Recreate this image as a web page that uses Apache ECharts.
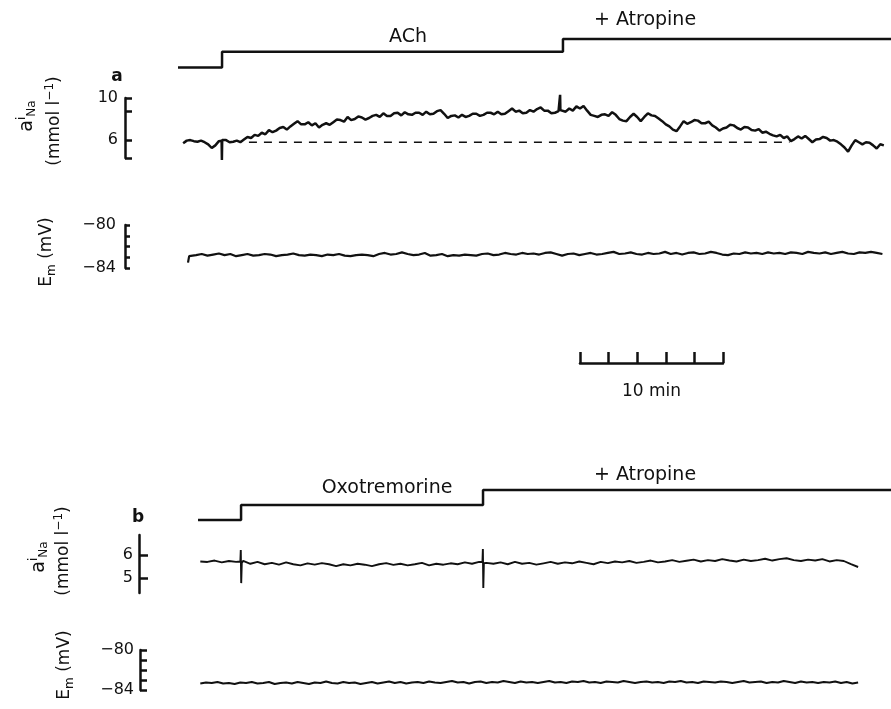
<!DOCTYPE html>
<html>
<head>
<meta charset="UTF-8">
<title>aiNa and Em traces</title>
<style>
  html, body { margin: 0; padding: 0; background: #fff; }
  #chart { width: 891px; height: 709px; }
</style>
<script src="https://cdn.jsdelivr.net/npm/echarts@6.0.0/dist/echarts.min.js"></script>
</head>
<body>
<div id="chart"></div>
<script>
// all times in minutes, from the left edge of the trace area

// drug protocol lines (step: time of change, level after it)
const protoATimes = [0.14, 3.22, 27.06, 50]
const protoALevels = [0, 1.1, 2, 2]
const protoBTimes = [1.54, 4.55, 21.47, 50]
const protoBLevels = [0, 1, 2, 2]

// panel a, aiNa (mmol/l), every 0.25 min from 0.5 min
const naAStart = 0.5
const naAStep = 0.25
const naAValues = [
  5.7, 5.95, 6.0, 5.9, 5.85, 5.95, 5.8, 5.6,
  5.25, 5.5, 5.9, 6.05, 6.0, 5.8, 5.85, 5.95,
  5.8, 6.05, 6.3, 6.2, 6.5, 6.4, 6.7, 6.55,
  6.95, 6.75, 6.9, 7.15, 7.25, 7.0, 7.3, 7.55,
  7.8, 7.5, 7.5, 7.7, 7.4, 7.6, 7.2, 7.45,
  7.6, 7.45, 7.7, 7.95, 7.9, 7.75, 8.2, 7.9,
  8.0, 8.25, 8.15, 7.95, 8.1, 8.3, 8.4, 8.2,
  8.55, 8.3, 8.3, 8.55, 8.6, 8.35, 8.65, 8.45,
  8.4, 8.6, 8.6, 8.4, 8.7, 8.45, 8.5, 8.75,
  8.85, 8.5, 8.1, 8.3, 8.35, 8.15, 8.4, 8.2,
  8.3, 8.5, 8.5, 8.3, 8.4, 8.6, 8.6, 8.45,
  8.7, 8.45, 8.5, 8.75, 9.0, 8.7, 8.8, 8.55,
  8.6, 8.85, 8.7, 8.95, 9.1, 8.8, 8.8, 8.55,
  8.6, 8.75, 8.9, 8.7, 9.0, 8.8, 9.2, 9.0,
  9.25, 8.8, 8.4, 8.3, 8.2, 8.4, 8.45, 8.3,
  8.65, 8.4, 8.0, 7.85, 7.8, 8.2, 8.5, 8.2,
  7.8, 8.2, 8.55, 8.35, 8.3, 8.05, 7.8, 7.5,
  7.3, 7.0, 6.85, 7.3, 7.8, 7.55, 7.7, 7.9,
  7.85, 7.6, 7.6, 7.75, 7.4, 7.2, 6.9, 7.1,
  7.2, 7.45, 7.4, 7.15, 7.0, 7.25, 7.2, 6.95,
  6.9, 7.05, 6.7, 6.8, 6.6, 6.45, 6.35, 6.5,
  6.2, 6.35, 5.9, 6.1, 6.35, 6.15, 6.4, 6.1,
  5.8, 6.05, 6.1, 6.3, 6.2, 5.95, 6.0, 5.85,
  5.6, 5.3, 4.9, 5.5, 6.0, 5.8, 5.6, 5.8,
  5.75, 5.5, 5.2, 5.6, 5.5
]
// switching artefacts [time, value]
const naASpikes = [
  [3.19, 5.95], [3.21, 4.1], [3.23, 6.0],
  [26.84, 8.8], [26.86, 10.3], [26.88, 8.85]
]
const naABaseline = 5.8
const naABaselineFrom = 5.1
const naABaselineTo = 42.9

// panel a, Em (mV), every 0.4 min from 1.0 min
const emAHook = [[0.84, -83.5], [0.92, -82.9]]
const emAStart = 1.0
const emAStep = 0.4
const emAValues = [
  -82.75, -82.8, -82.7, -82.85, -82.75, -82.65, -82.8, -82.7, -82.9, -82.8,
  -82.7, -82.85, -82.8, -82.7, -82.75, -82.9, -82.8, -82.75, -82.65, -82.8,
  -82.85, -82.75, -82.8, -82.9, -82.75, -82.8, -82.7, -82.85, -82.9, -82.8,
  -82.75, -82.8, -82.9, -82.7, -82.6, -82.75, -82.7, -82.55, -82.7, -82.8,
  -82.75, -82.6, -82.85, -82.8, -82.7, -82.9, -82.8, -82.85, -82.75, -82.8,
  -82.85, -82.7, -82.65, -82.8, -82.75, -82.6, -82.7, -82.75, -82.6, -82.7,
  -82.65, -82.75, -82.6, -82.55, -82.7, -82.85, -82.7, -82.65, -82.8, -82.7,
  -82.6, -82.75, -82.7, -82.6, -82.5, -82.7, -82.65, -82.55, -82.7, -82.75,
  -82.6, -82.7, -82.65, -82.5, -82.7, -82.6, -82.75, -82.6, -82.55, -82.7,
  -82.65, -82.5, -82.6, -82.75, -82.8, -82.65, -82.7, -82.55, -82.65, -82.6,
  -82.7, -82.55, -82.65, -82.6, -82.7, -82.55, -82.6, -82.7, -82.5, -82.6,
  -82.65, -82.55, -82.7, -82.6, -82.5, -82.65, -82.7, -82.55, -82.6, -82.5,
  -82.6, -82.7
]

// panel b, aiNa (mmol/l), every 0.5 min from 1.7 min
const naBStart = 1.7
const naBStep = 0.5
const naBValues = [
  5.72, 5.7, 5.76, 5.68, 5.74, 5.7, 5.75, 5.62, 5.7, 5.6,
  5.66, 5.58, 5.68, 5.6, 5.55, 5.64, 5.58, 5.65, 5.6, 5.52,
  5.6, 5.55, 5.62, 5.58, 5.52, 5.6, 5.65, 5.57, 5.62, 5.55,
  5.6, 5.66, 5.55, 5.62, 5.58, 5.64, 5.6, 5.68, 5.62, 5.7,
  5.66, 5.62, 5.68, 5.6, 5.7, 5.62, 5.66, 5.58, 5.64, 5.7,
  5.62, 5.68, 5.64, 5.72, 5.66, 5.6, 5.7, 5.65, 5.72, 5.68,
  5.74, 5.66, 5.7, 5.76, 5.68, 5.72, 5.78, 5.7, 5.75, 5.8,
  5.72, 5.78, 5.74, 5.82, 5.76, 5.72, 5.8, 5.74, 5.78, 5.84,
  5.76, 5.82, 5.86, 5.78, 5.74, 5.8, 5.76, 5.82, 5.72, 5.78,
  5.74, 5.6, 5.48
]
const naBSpikes = [
  [4.5, 5.72], [4.53, 6.22], [4.56, 4.78], [4.6, 5.65],
  [21.43, 5.7], [21.46, 6.26], [21.49, 4.57], [21.53, 5.65]
]

// panel b, Em (mV), every 0.4 min from 1.7 min
const emBStart = 1.7
const emBStep = 0.4
const emBValues = [
  -83.35, -83.25, -83.3, -83.2, -83.35, -83.3, -83.4, -83.25, -83.3, -83.2,
  -83.35, -83.3, -83.2, -83.4, -83.3, -83.25, -83.35, -83.2, -83.3, -83.4,
  -83.25, -83.3, -83.15, -83.3, -83.35, -83.2, -83.3, -83.25, -83.4, -83.3,
  -83.2, -83.35, -83.25, -83.15, -83.3, -83.2, -83.35, -83.25, -83.2, -83.3,
  -83.15, -83.25, -83.3, -83.2, -83.1, -83.25, -83.2, -83.35, -83.2, -83.15,
  -83.3, -83.2, -83.25, -83.1, -83.2, -83.3, -83.15, -83.25, -83.2, -83.3,
  -83.2, -83.1, -83.25, -83.2, -83.3, -83.15, -83.2, -83.1, -83.25, -83.2,
  -83.3, -83.15, -83.2, -83.25, -83.1, -83.2, -83.3, -83.2, -83.15, -83.25,
  -83.2, -83.3, -83.15, -83.2, -83.1, -83.25, -83.2, -83.3, -83.15, -83.2,
  -83.25, -83.15, -83.2, -83.3, -83.2, -83.1, -83.25, -83.2, -83.15, -83.3,
  -83.2, -83.25, -83.1, -83.2, -83.3, -83.15, -83.25, -83.2, -83.3, -83.2,
  -83.25, -83.15, -83.3, -83.2, -83.35, -83.25
]

// 10 min time scale bar
const scaleStart = 28.25
const scaleLength = 10
const scaleTickStep = 2

const timeMax = 50
const plotLeft = 176
const pxPerMin = (891 - plotLeft) / timeMax

const ink = '#111'
const font = 'DejaVu Sans, Liberation Sans, sans-serif'

const steps = (times, levels) => times.map((t, i) => [t, levels[i]])
const trace = (start, step, values, extra = []) =>
  values.map((v, i) => [+(start + i * step).toFixed(3), v])
    .concat(extra)
    .sort((a, b) => a[0] - b[0])
const minus = v => String(v).replace('-', '\u2212')

const chart = echarts.init(document.getElementById('chart'))

// grid tops / heights
const grids = [
  { top: 39, height: 28.5 },   // 0 protocol a
  { top: 98, height: 60 },     // 1 aiNa a
  { top: 225, height: 43 },    // 2 Em a
  { top: 350, height: 13 },    // 3 scale bar
  { top: 490, height: 30 },    // 4 protocol b
  { top: 535, height: 58 },    // 5 aiNa b
  { top: 650, height: 40 }     // 6 Em b
].map((g, i) => i === 3
  ? { left: plotLeft + scaleStart * pxPerMin, width: scaleLength * pxPerMin, top: g.top, height: g.height }
  : { left: plotLeft, right: 0, top: g.top, height: g.height })

const timeAxis = i => ({ gridIndex: i, type: 'value', min: 0, max: timeMax, show: false })

const yScale = (i, o) => ({
  gridIndex: i,
  type: 'value',
  min: o.min,
  max: o.max,
  interval: o.interval,
  offset: o.offset,
  splitLine: { show: false },
  axisLine: { show: true, onZero: false, lineStyle: { color: ink, width: 2.5 } },
  axisTick: {
    show: true, inside: true, length: o.tick,
    lineStyle: { color: ink, width: 2.5 },
    customValues: o.ticks
  },
  axisLabel: {
    show: true, margin: o.margin, color: ink, fontSize: 16, fontFamily: font,
    customValues: o.labels, formatter: minus
  }
})

const hidden = (i, min, max) => ({ gridIndex: i, type: 'value', min, max, show: false })

const lineSeries = (axis, data, extra = {}) => Object.assign({
  type: 'line',
  xAxisIndex: axis,
  yAxisIndex: axis,
  data,
  symbol: 'none',
  clip: false,
  silent: true,
  lineStyle: { color: ink, width: 2.2 }
}, extra)

const label = (x, y, text, size, extra = {}) => ({
  type: 'text', x, y,
  style: Object.assign({
    text, fill: ink, fontSize: size, fontFamily: font,
    align: 'center', verticalAlign: 'middle'
  }, extra)
})

const rich = {
  m: { fontSize: 17, lineHeight: 22, fontFamily: font, fill: ink },
  big: { fontSize: 19, lineHeight: 22, fontFamily: font, fill: ink },
  sub: { fontSize: 12, lineHeight: 12, verticalAlign: 'bottom', fontFamily: font, fill: ink },
  sup: { fontSize: 12, lineHeight: 12, verticalAlign: 'top', fontFamily: font, fill: ink }
}
const yName = (x, y, text) => ({
  type: 'text', x, y, rotation: Math.PI / 2,
  style: { text, rich, fill: ink, fontSize: 17, fontFamily: font, align: 'center', verticalAlign: 'middle' }
})

chart.setOption({
  animation: false,
  backgroundColor: '#fff',
  grid: grids,
  xAxis: [
    timeAxis(0), timeAxis(1), timeAxis(2),
    {
      gridIndex: 3, type: 'value', min: 0, max: scaleLength, interval: scaleTickStep,
      position: 'bottom',
      axisLine: { show: true, onZero: false, lineStyle: { color: ink, width: 2.5 } },
      axisTick: { show: true, inside: true, length: 11, lineStyle: { color: ink, width: 2.5 } },
      axisLabel: { show: false },
      splitLine: { show: false },
      name: '10 min', nameLocation: 'middle', nameGap: 20,
      nameTextStyle: { color: ink, fontSize: 17, fontFamily: font }
    },
    timeAxis(4), timeAxis(5), timeAxis(6)
  ],
  yAxis: [
    hidden(0, 0, 2),
    yScale(1, { min: 4.3, max: 10, offset: 51, tick: 7, margin: 7, ticks: [4.3, 6, 8.7, 10], labels: [6, 10] }),
    yScale(2, { min: -84, max: -80, interval: 1, offset: 51, tick: 5, margin: 9, labels: [-84, -80] }),
    hidden(3, 0, 1),
    hidden(4, 0, 2),
    yScale(5, { min: 4.35, max: 6.87, offset: 37, tick: 9, margin: 6, ticks: [5, 6], labels: [5, 6] }),
    yScale(6, { min: -84, max: -80, interval: 1, offset: 36, tick: 7, margin: 6, labels: [-84, -80] })
  ],
  series: [
    lineSeries(0, steps(protoATimes, protoALevels), { step: 'end', lineStyle: { color: ink, width: 2.5 } }),
    lineSeries(1, trace(naAStart, naAStep, naAValues, naASpikes), { lineStyle: { color: ink, width: 2.5 } }),
    lineSeries(1, [[naABaselineFrom, naABaseline], [naABaselineTo, naABaseline]],
      { lineStyle: { color: ink, width: 1.5, type: [8, 7] } }),
    lineSeries(2, emAHook.concat(trace(emAStart, emAStep, emAValues))),
    lineSeries(3, []),
    lineSeries(4, steps(protoBTimes, protoBLevels), { step: 'end', lineStyle: { color: ink, width: 2.5 } }),
    lineSeries(5, trace(naBStart, naBStep, naBValues, naBSpikes), { lineStyle: { color: ink, width: 1.9 } }),
    lineSeries(6, trace(emBStart, emBStep, emBValues))
  ],
  graphic: [
    label(408, 37, 'ACh', 19),
    label(645, 20, '+ Atropine', 19),
    label(387, 488, 'Oxotremorine', 19),
    label(645, 475, '+ Atropine', 19),
    label(117, 77, 'a', 17, { fontWeight: 'bold' }),
    label(138, 518, 'b', 17, { fontWeight: 'bold' }),
    yName(27, 116, '{big|a}{sup|i}{sub|Na}'),
    yName(55, 121, '{m|(mmol l}{sup|\u22121}{m|)}'),
    yName(47, 252, '{m|E}{sub|m}{m| (mV)}'),
    yName(39, 557, '{big|a}{sup|i}{sub|Na}'),
    yName(64, 551, '{m|(mmol l}{sup|\u22121}{m|)}'),
    yName(65, 665, '{m|E}{sub|m}{m| (mV)}')
  ]
})
</script>
</body>
</html>
